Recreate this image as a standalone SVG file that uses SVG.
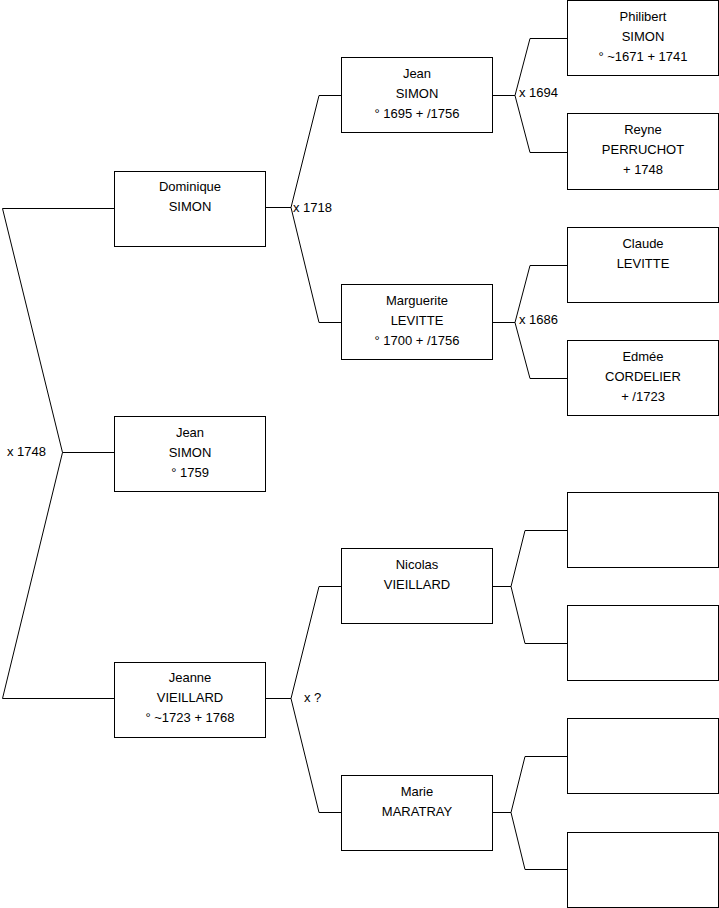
<svg xmlns="http://www.w3.org/2000/svg" width="719" height="908" viewBox="0 0 719 908">
<style>
.b{fill:#fff;stroke:#000;stroke-width:1}
.t{font-family:"Liberation Sans",Arial,sans-serif;font-size:13px;fill:#000;text-anchor:middle}
.l{font-family:"Liberation Sans",Arial,sans-serif;font-size:13px;fill:#000}
.c{fill:none;stroke:#000;stroke-width:1}
</style>
<rect width="719" height="908" fill="#fff"/>
<g id="connectors">
<path class="c" d="M114,208.5H2.5L62.5,452.5L2.5,698.5H114M62.5,452.5H114"/>
<path class="c" d="M265,207.5H291L319,95.5H341M291,207.5L319,322.5H341"/>
<path class="c" d="M492,95.5H515L530,38.5H567M515,95.5L530,152.5H567"/>
<path class="c" d="M492,322.5H515L530,265.5H567M515,322.5L530,378.5H567"/>
<path class="c" d="M265,698.5H291L319,586.5H341M291,698.5L319,812.5H341"/>
<path class="c" d="M492,586.5H511L525,530.5H567M511,586.5L525,643.5H567"/>
<path class="c" d="M492,812.5H511L525,756.5H567M511,812.5L525,869.5H567"/>
<text class="l" x="7" y="456">x 1748</text>
<text class="l" x="293" y="211.5">x 1718</text>
<text class="l" x="519" y="97">x 1694</text>
<text class="l" x="519" y="324">x 1686</text>
<text class="l" x="304" y="702">x ?</text>
</g>
<g id="dominique"><rect class="b" x="114.5" y="171.5" width="151" height="75"/><text class="t" x="190" y="191">Dominique</text><text class="t" x="190" y="211">SIMON</text></g>
<g id="jean-1759"><rect class="b" x="114.5" y="416.5" width="151" height="75"/><text class="t" x="190" y="437">Jean</text><text class="t" x="190" y="457">SIMON</text><text class="t" x="190" y="477">° 1759</text></g>
<g id="jeanne"><rect class="b" x="114.5" y="662.5" width="151" height="75"/><text class="t" x="190" y="682">Jeanne</text><text class="t" x="190" y="702">VIEILLARD</text><text class="t" x="190" y="722">° ~1723 + 1768</text></g>
<g id="jean-1695"><rect class="b" x="341.5" y="57.5" width="151" height="75"/><text class="t" x="417" y="78">Jean</text><text class="t" x="417" y="98">SIMON</text><text class="t" x="417" y="118">° 1695 + /1756</text></g>
<g id="marguerite"><rect class="b" x="341.5" y="284.5" width="151" height="75"/><text class="t" x="417" y="305">Marguerite</text><text class="t" x="417" y="325">LEVITTE</text><text class="t" x="417" y="345">° 1700 + /1756</text></g>
<g id="nicolas"><rect class="b" x="341.5" y="548.5" width="151" height="75"/><text class="t" x="417" y="569">Nicolas</text><text class="t" x="417" y="589">VIEILLARD</text></g>
<g id="marie"><rect class="b" x="341.5" y="775.5" width="151" height="75"/><text class="t" x="417" y="796">Marie</text><text class="t" x="417" y="816">MARATRAY</text></g>
<g id="philibert"><rect class="b" x="567.5" y="0.5" width="151" height="75"/><text class="t" x="643" y="21">Philibert</text><text class="t" x="643" y="41">SIMON</text><text class="t" x="643" y="61">° ~1671 + 1741</text></g>
<g id="reyne"><rect class="b" x="567.5" y="113.5" width="151" height="76"/><text class="t" x="643" y="134">Reyne</text><text class="t" x="643" y="154">PERRUCHOT</text><text class="t" x="643" y="174">+ 1748</text></g>
<g id="claude"><rect class="b" x="567.5" y="227.5" width="151" height="75"/><text class="t" x="643" y="248">Claude</text><text class="t" x="643" y="268">LEVITTE</text></g>
<g id="edmee"><rect class="b" x="567.5" y="340.5" width="151" height="75"/><text class="t" x="643" y="361">Edmée</text><text class="t" x="643" y="381">CORDELIER</text><text class="t" x="643" y="401">+ /1723</text></g>
<g id="empty1"><rect class="b" x="567.5" y="492.5" width="151" height="75"/></g>
<g id="empty2"><rect class="b" x="567.5" y="605.5" width="151" height="75"/></g>
<g id="empty3"><rect class="b" x="567.5" y="718.5" width="151" height="75"/></g>
<g id="empty4"><rect class="b" x="567.5" y="832.5" width="151" height="75"/></g>
</svg>
